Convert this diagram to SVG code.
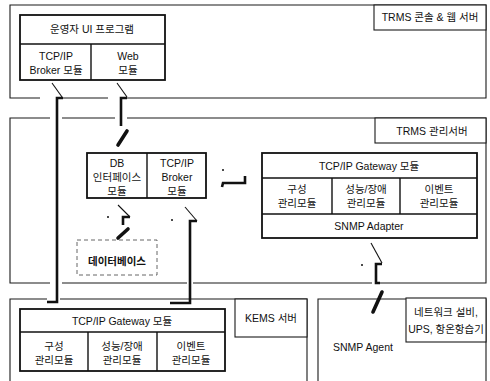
<svg xmlns="http://www.w3.org/2000/svg" width="490" height="381" viewBox="0 0 490 381">
<style>
.bg{fill:#ffffff}
.outer{fill:none;stroke:#1a1a1a;stroke-width:1.1}
.inner{fill:#ffffff;stroke:#111111;stroke-width:1.8}
.sep{fill:none;stroke:#111111;stroke-width:1.4}
.lbl{fill:#ffffff;stroke:#1a1a1a;stroke-width:1.1}
.thin{fill:none;stroke:#111111;stroke-width:1.1}
.thick{fill:none;stroke:#111111;stroke-width:2.6;stroke-linejoin:miter}
.dash{fill:none;stroke:#111111;stroke-width:3.6;stroke-linecap:round}
.dot{fill:#111111}
.db{fill:none;stroke:#555555;stroke-width:0.9;stroke-dasharray:4 3}
text{font-family:"Liberation Sans","Noto Sans CJK KR",sans-serif;font-size:10.5px;fill:#111111;text-anchor:middle}
</style>
<rect class="bg" x="0" y="0" width="490" height="381"/>

<g id="trms-console-server">
<path class="outer" d="M40,98 H10 V5 H486 V98 H121 M63,98 H108"/>
<rect class="lbl" x="374" y="5" width="112" height="25"/>
<text x="430" y="21">TRMS 콘솔 &amp; 웹 서버</text>
</g>

<g id="operator-ui">
<rect class="inner" x="20" y="15" width="145" height="65"/>
<line class="sep" x1="20" y1="44" x2="165" y2="44"/>
<line class="sep" x1="91" y1="44" x2="91" y2="80"/>
<text x="92" y="33">운영자 UI 프로그램</text>
<text x="56" y="60">TCP/IP</text>
<text x="56" y="74">Broker 모듈</text>
<text x="128" y="60">Web</text>
<text x="128" y="74">모듈</text>
</g>

<g id="trms-mgmt-server">
<path class="outer" d="M50,118 H10 V283 H50 M62,118 H115 M127,118 H486 V283 H378 M62,283 H187 M193,283 H372"/>
<rect class="lbl" x="375" y="118" width="111" height="25"/>
<text x="432" y="135">TRMS 관리서버</text>
</g>

<g id="db-tcp-broker">
<rect class="inner" x="87" y="153" width="119" height="45"/>
<line class="sep" x1="147" y1="153" x2="147" y2="198"/>
<text x="117" y="167">DB</text>
<text x="117" y="181">인터페이스</text>
<text x="117" y="195">모듈</text>
<text x="177" y="167">TCP/IP</text>
<text x="177" y="181">Broker</text>
<text x="177" y="195">모듈</text>
</g>

<g id="trms-gateway">
<rect class="inner" x="262" y="153" width="215" height="85"/>
<line class="sep" x1="262" y1="178" x2="477" y2="178"/>
<line class="sep" x1="262" y1="214" x2="477" y2="214"/>
<line class="sep" x1="332" y1="178" x2="332" y2="214"/>
<line class="sep" x1="400" y1="178" x2="400" y2="214"/>
<text x="369" y="170">TCP/IP Gateway 모듈</text>
<text x="297" y="193">구성</text>
<text x="297" y="207">관리모듈</text>
<text x="366" y="193">성능/장애</text>
<text x="366" y="207">관리모듈</text>
<text x="439" y="193">이벤트</text>
<text x="439" y="207">관리모듈</text>
<text x="369" y="230">SNMP Adapter</text>
</g>

<g id="database">
<rect class="db" x="77" y="240" width="80" height="35"/>
<text x="117" y="265" font-weight="bold">데이터베이스</text>
</g>

<g id="kems-server">
<path class="outer" d="M10,381 V299 H47 M60,299 H307 V381"/>
<rect class="lbl" x="235" y="299" width="72" height="38"/>
<text x="271" y="322">KEMS 서버</text>
</g>

<g id="kems-gateway">
<rect class="inner" x="20" y="309" width="205" height="62"/>
<line class="sep" x1="20" y1="332" x2="225" y2="332"/>
<line class="sep" x1="88" y1="332" x2="88" y2="371"/>
<line class="sep" x1="157" y1="332" x2="157" y2="371"/>
<text x="122" y="325">TCP/IP Gateway 모듈</text>
<text x="54" y="350">구성</text>
<text x="54" y="364">관리모듈</text>
<text x="122" y="350">성능/장애</text>
<text x="122" y="364">관리모듈</text>
<text x="191" y="350">이벤트</text>
<text x="191" y="364">관리모듈</text>
</g>

<g id="snmp-agent">
<path class="outer" d="M318,381 V299 H486 V381"/>
<rect class="lbl" x="406" y="298" width="80" height="44"/>
<text x="446" y="316">네트워크 설비,</text>
<text x="446" y="333">UPS, 항온항습기</text>
<text x="363" y="351">SNMP Agent</text>
</g>

<g id="connectors">
<line class="thin" x1="52" y1="83" x2="62" y2="97"/>
<path class="thick" d="M63,98 H57 V302 H47"/>
<line class="thin" x1="117" y1="83" x2="127" y2="97"/>
<path class="thick" d="M127,98 H121 V126"/>
<line class="dash" x1="127" y1="131" x2="118" y2="145"/>
<circle class="dot" cx="223" cy="170" r="1"/>
<path class="thick" d="M222,187 L223,183 H245 V176"/>
<circle class="dot" cx="108" cy="217" r="1"/>
<line class="thin" x1="118" y1="205" x2="130" y2="217"/>
<path class="thick" d="M130,217 H123 V225"/>
<line class="dash" x1="128" y1="229" x2="118" y2="238"/>
<circle class="dot" cx="172" cy="220" r="1"/>
<line class="thin" x1="185" y1="207" x2="197" y2="221"/>
<path class="thick" d="M197,221 H190 V303 H170"/>
<circle class="dot" cx="362" cy="265" r="1"/>
<line class="thin" x1="371" y1="243" x2="382" y2="263"/>
<path class="thick" d="M382,264 H376 V283 H380"/>
<line class="dash" x1="382" y1="292" x2="373" y2="312"/>
</g>
</svg>
